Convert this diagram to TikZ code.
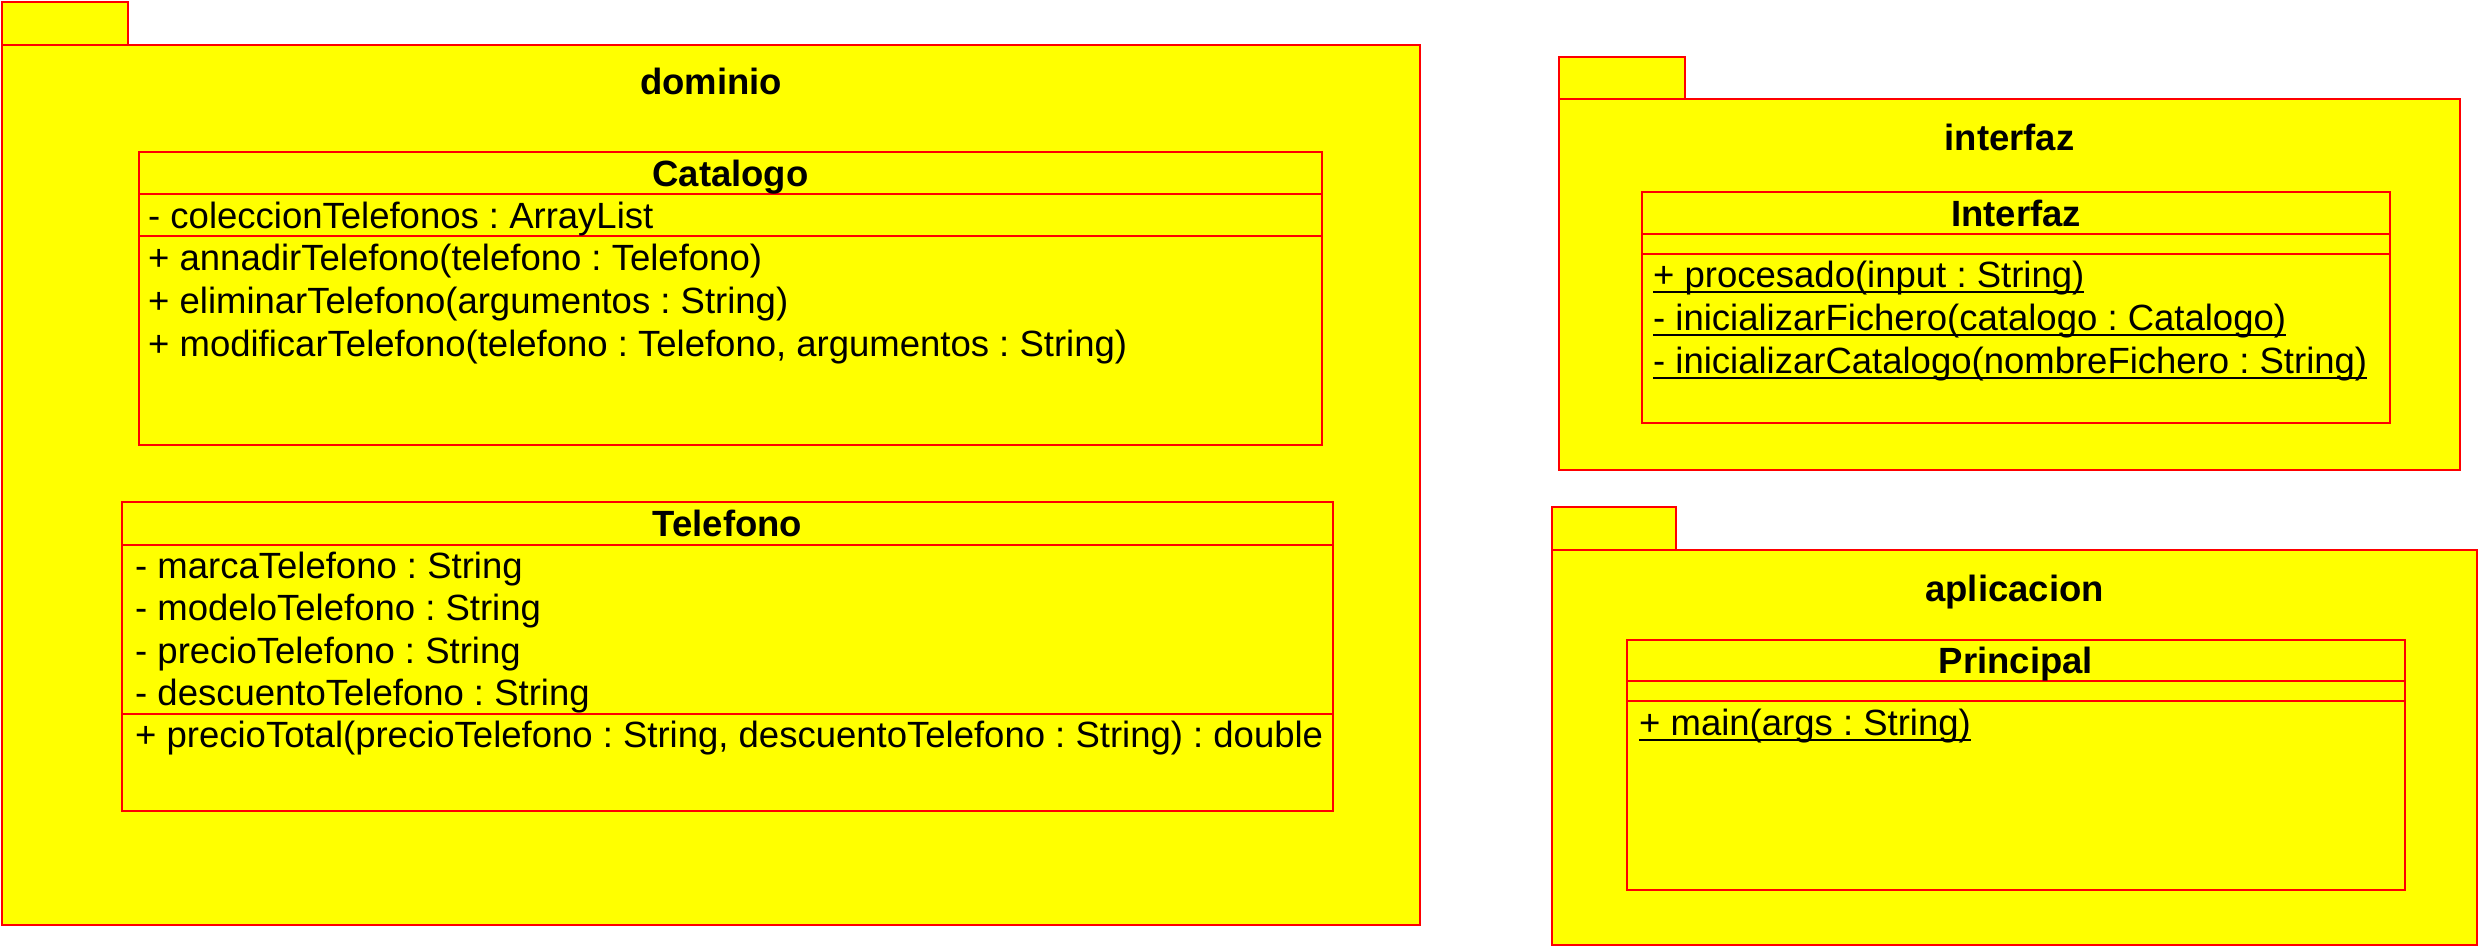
\documentclass[tikz,border=0pt]{standalone}
\usepackage{fontspec}
\setmainfont{Liberation Sans}
\frenchspacing
\definecolor{pkgfill}{RGB}{255,255,0}
\definecolor{pkgline}{RGB}{255,0,0}
\newcommand\fs{\fontsize{36.5}{43}\selectfont\frenchspacing}
\newsavebox\ulbox
\newcommand\ulx[1]{\sbox\ulbox{#1}\rlap{\rule[-5.5pt]{\wd\ulbox}{1.8pt}}\usebox\ulbox}
\tikzset{
  pkg/.style={draw=pkgline, fill=pkgfill, line width=1.2pt},
  sep/.style={draw=pkgline, line width=1.2pt},
  lbl/.style={anchor=base west, inner sep=0pt, font=\fs},
  ttl/.style={anchor=base, inner sep=0pt, font=\fs\bfseries}
}
\begin{document}
\begin{tikzpicture}[x=1pt,y=-1pt]
\useasboundingbox (0,0) rectangle (2488,950);
% ---------- dominio ----------
\draw[pkg] (2,2) rectangle (128,45);
\draw[pkg] (2,45) rectangle (1420,925);
\node[ttl] (dominio) at (711,94) {dominio};
% Catalogo
\draw[pkg] (139,152) rectangle (1322,445);
\draw[sep] (139,194) -- (1322,194);
\draw[sep] (139,236) -- (1322,236);
\node[ttl] (catalogo) at (730.5,186) {Catalogo};
\node[lbl] (c1) at (148,228) {- coleccionTelefonos : ArrayList};
\node[lbl] (c2) at (148,270) {+ annadirTelefono(telefono : Telefono)};
\node[lbl] (c3) at (148,313) {+ eliminarTelefono(argumentos : String)};
\node[lbl] (c4) at (148,356) {+ modificarTelefono(telefono : Telefono, argumentos : String)};
% Telefono
\draw[pkg] (122,502) rectangle (1333,811);
\draw[sep] (122,545) -- (1333,545);
\draw[sep] (122,714) -- (1333,714);
\node[ttl] (telefono) at (727.5,536) {Telefono};
\node[lbl] (t1) at (135,578) {- marcaTelefono : String};
\node[lbl] (t2) at (135,620.5) {- modeloTelefono : String};
\node[lbl] (t3) at (135,663) {- precioTelefono : String};
\node[lbl] (t4) at (135,705.5) {- descuentoTelefono : String};
\node[lbl] (t5) at (135,747) {+ precioTotal(precioTelefono : String, descuentoTelefono : String) : double};
% ---------- interfaz ----------
\draw[pkg] (1559,57) rectangle (1685,99);
\draw[pkg] (1559,99) rectangle (2460,470);
\node[ttl] (interfazpkg) at (2009.5,150) {interfaz};
\draw[pkg] (1642,192) rectangle (2390,423);
\draw[sep] (1642,234) -- (2390,234);
\draw[sep] (1642,254) -- (2390,254);
\node[ttl] (interfaz) at (2016,226) {Interfaz};
\node[lbl] (i1) at (1653,287) {\ulx{+ procesado(input : String)}};
\node[lbl] (i2) at (1653,330) {\ulx{- inicializarFichero(catalogo : Catalogo)}};
\node[lbl] (i3) at (1653,373) {\ulx{- inicializarCatalogo(nombreFichero : String)}};
% ---------- aplicacion ----------
\draw[pkg] (1552,507) rectangle (1676,550);
\draw[pkg] (1552,550) rectangle (2477,945);
\node[ttl] (aplicacion) at (2014.5,601) {aplicacion};
\draw[pkg] (1627,640) rectangle (2405,890);
\draw[sep] (1627,681) -- (2405,681);
\draw[sep] (1627,701) -- (2405,701);
\node[ttl] (principal) at (2016,673.5) {Principal};
\node[lbl] (p1) at (1639,735) {\ulx{+ main(args : String)}};
\end{tikzpicture}
\end{document}
